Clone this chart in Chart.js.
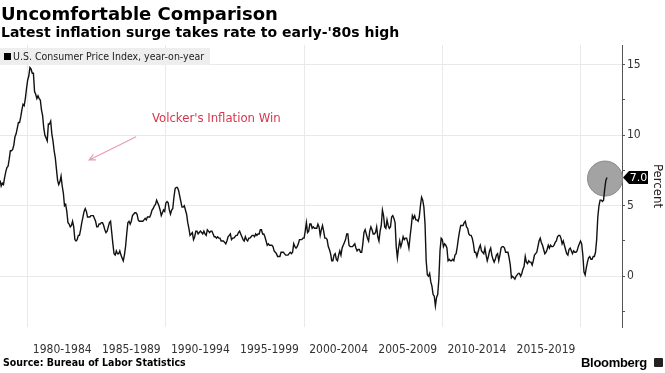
<!DOCTYPE html>
<html>
<head>
<meta charset="utf-8">
<script src="https://cdn.jsdelivr.net/npm/chart.js@4/dist/chart.umd.min.js"></script>
<style>
  html, body { margin: 0; padding: 0; background: #fff; }
  #wrap { position: relative; width: 665px; height: 373px; overflow: hidden; font-family: "DejaVu Sans", sans-serif; }
  #c { position: absolute; left: 0; top: 0; }
  .t { position: absolute; white-space: nowrap; color: #000; }
  #title { left: 1px; top: 1px; font-size: 18px; font-weight: bold; line-height: 26px; }
  #sub { left: 1px; top: 23px; font-size: 14px; font-weight: bold; line-height: 18px; }
  #legend { left: 0; top: 48px; width: 210px; height: 17px; background: #eeeeee; font-family: "DejaVu Sans Condensed", "DejaVu Sans", sans-serif; font-size: 10.5px; line-height: 17px; color: #222; padding-left: 13px; box-sizing: border-box; }
  #legend:before { content: ""; position: absolute; left: 4px; top: 5px; width: 7px; height: 7px; background: #000; }
  #src { left: 3px; top: 355px; font-size: 10.5px; font-weight: bold; line-height: 14px; font-family: "DejaVu Sans Condensed", "DejaVu Sans", sans-serif; }
  #bbg { left: 581px; top: 355px; font-size: 13px; font-weight: bold; line-height: 16px; font-family: "Liberation Sans", sans-serif; letter-spacing: -0.3px; }
  #logo { position: absolute; left: 654px; top: 358px; width: 9px; height: 9px; background: #222; border-radius: 1px; }
</style>
</head>
<body>
<div id="wrap">
  <canvas id="c" width="665" height="373"></canvas>
  <div class="t" id="title">Uncomfortable Comparison</div>
  <div class="t" id="sub">Latest inflation surge takes rate to early-'80s high</div>
  <div class="t" id="legend">U.S. Consumer Price Index, year-on-year</div>
  <div class="t" id="src">Source: Bureau of Labor Statistics</div>
  <div class="t" id="bbg">Bloomberg</div>
  <div id="logo"></div>
</div>
<script>
// ---- Data ----
const startYear = 1978;          // first month: January 1978, monthly series
const cpiYoY = [
  // 1978
  6.8, 6.4, 6.6, 6.5, 7.0, 7.4, 7.7, 7.8, 8.3, 8.9, 8.9, 9.0,
  // 1979
  9.3, 9.9, 10.1, 10.5, 10.9, 10.9, 11.3, 11.8, 12.2, 12.1, 12.6, 13.3,
  // 1980
  13.9, 14.2, 14.8, 14.7, 14.4, 14.4, 13.1, 12.9, 12.6, 12.8, 12.6, 12.5,
  // 1981
  11.8, 11.4, 10.5, 10.0, 9.8, 9.6, 10.8, 10.8, 11.0, 10.1, 9.6, 8.9,
  // 1982
  8.4, 7.6, 6.8, 6.5, 6.7, 7.1, 6.4, 5.9, 5.0, 5.1, 4.6, 3.8,
  // 1983
  3.7, 3.5, 3.6, 3.9, 3.5, 2.6, 2.5, 2.6, 2.9, 2.9, 3.3, 3.8,
  // 1984
  4.2, 4.6, 4.8, 4.6, 4.2, 4.2, 4.2, 4.3, 4.3, 4.3, 4.1, 3.9,
  // 1985
  3.5, 3.5, 3.7, 3.7, 3.8, 3.8, 3.6, 3.3, 3.1, 3.2, 3.5, 3.8,
  // 1986
  3.9, 3.1, 2.3, 1.6, 1.5, 1.8, 1.6, 1.6, 1.8, 1.5, 1.3, 1.1,
  // 1987
  1.5, 2.1, 3.0, 3.8, 3.9, 3.7, 3.9, 4.3, 4.4, 4.5, 4.5, 4.4,
  // 1988
  4.0, 3.9, 3.9, 3.9, 3.9, 4.0, 4.1, 4.0, 4.2, 4.2, 4.2, 4.4,
  // 1989
  4.7, 4.8, 5.0, 5.1, 5.4, 5.2, 5.0, 4.7, 4.3, 4.5, 4.7, 4.6,
  // 1990
  5.2, 5.3, 5.2, 4.7, 4.4, 4.7, 4.8, 5.6, 6.2, 6.3, 6.3, 6.1,
  // 1991
  5.7, 5.3, 4.9, 4.9, 5.0, 4.7, 4.4, 3.8, 3.4, 2.9, 3.0, 3.1,
  // 1992
  2.6, 2.8, 3.2, 3.2, 3.0, 3.1, 3.2, 3.1, 3.0, 3.2, 3.0, 2.9,
  // 1993
  3.3, 3.2, 3.1, 3.2, 3.2, 3.0, 2.8, 2.8, 2.7, 2.8, 2.7, 2.7,
  // 1994
  2.5, 2.5, 2.5, 2.4, 2.3, 2.5, 2.8, 2.9, 3.0, 2.6, 2.7, 2.7,
  // 1995
  2.8, 2.9, 2.9, 3.1, 3.2, 3.0, 2.8, 2.6, 2.5, 2.8, 2.6, 2.5,
  // 1996
  2.7, 2.7, 2.8, 2.9, 2.9, 2.8, 3.0, 2.9, 3.0, 3.0, 3.3, 3.3,
  // 1997
  3.0, 3.0, 2.8, 2.5, 2.2, 2.3, 2.2, 2.2, 2.2, 2.1, 1.8, 1.7,
  // 1998
  1.6, 1.4, 1.4, 1.4, 1.7, 1.7, 1.7, 1.6, 1.5, 1.5, 1.5, 1.6,
  // 1999
  1.7, 1.6, 1.7, 2.3, 2.1, 2.0, 2.1, 2.3, 2.6, 2.6, 2.6, 2.7,
  // 2000
  2.7, 3.2, 3.8, 3.1, 3.2, 3.7, 3.7, 3.4, 3.5, 3.4, 3.4, 3.4,
  // 2001
  3.7, 3.5, 2.9, 3.3, 3.6, 3.2, 2.7, 2.7, 2.6, 2.1, 1.9, 1.6,
  // 2002
  1.1, 1.1, 1.5, 1.6, 1.2, 1.1, 1.5, 1.8, 1.5, 2.0, 2.2, 2.4,
  // 2003
  2.6, 3.0, 3.0, 2.2, 2.1, 2.1, 2.1, 2.2, 2.3, 2.0, 1.8, 1.9,
  // 2004
  1.9, 1.7, 1.7, 2.3, 3.1, 3.3, 3.0, 2.7, 2.5, 3.2, 3.5, 3.3,
  // 2005
  3.0, 3.0, 3.1, 3.5, 2.8, 2.5, 3.2, 3.6, 4.7, 4.3, 3.5, 3.4,
  // 2006
  4.0, 3.6, 3.4, 3.5, 4.2, 4.3, 4.1, 3.8, 2.1, 1.3, 2.0, 2.5,
  // 2007
  2.1, 2.4, 2.8, 2.6, 2.7, 2.7, 2.4, 2.0, 2.8, 3.5, 4.3, 4.1,
  // 2008
  4.3, 4.0, 4.0, 3.9, 4.2, 5.0, 5.6, 5.4, 4.9, 3.7, 1.1, 0.1,
  // 2009
  0.0, 0.2, -0.4, -0.7, -1.3, -1.4, -2.1, -1.5, -1.3, -0.2, 1.8, 2.7,
  // 2010
  2.6, 2.1, 2.3, 2.2, 2.0, 1.1, 1.2, 1.1, 1.1, 1.2, 1.1, 1.5,
  // 2011
  1.6, 2.1, 2.7, 3.2, 3.6, 3.6, 3.6, 3.8, 3.9, 3.5, 3.4, 3.0,
  // 2012
  2.9, 2.9, 2.7, 2.3, 1.7, 1.7, 1.4, 1.7, 2.0, 2.2, 1.8, 1.7,
  // 2013
  1.6, 2.0, 1.5, 1.1, 1.4, 1.8, 2.0, 1.5, 1.2, 1.0, 1.2, 1.5,
  // 2014
  1.6, 1.1, 1.5, 2.0, 2.1, 2.1, 2.0, 1.7, 1.7, 1.7, 1.3, 0.8,
  // 2015
  -0.1, 0.0, -0.1, -0.2, 0.0, 0.1, 0.2, 0.2, 0.0, 0.2, 0.5, 0.7,
  // 2016
  1.4, 1.0, 0.9, 1.1, 1.0, 1.0, 0.8, 1.1, 1.5, 1.6, 1.7, 2.1,
  // 2017
  2.5, 2.7, 2.4, 2.2, 1.9, 1.6, 1.7, 1.9, 2.2, 2.0, 2.2, 2.1,
  // 2018
  2.1, 2.2, 2.4, 2.5, 2.8, 2.9, 2.9, 2.7, 2.3, 2.5, 2.2, 1.9,
  // 2019
  1.6, 1.5, 1.9, 2.0, 1.8, 1.6, 1.8, 1.7, 1.7, 1.8, 2.1, 2.3,
  // 2020
  2.5, 2.3, 1.5, 0.3, 0.1, 0.6, 1.0, 1.3, 1.4, 1.2, 1.2, 1.4,
  // 2021
  1.4, 1.7, 2.6, 4.2, 5.0, 5.4, 5.4, 5.3, 5.4, 6.2, 6.8, 7.0
];
const periodLabels = ['1980-1984','1985-1989','1990-1994','1995-1999','2000-2004','2005-2009','2010-2014','2015-2019'];
const periodStarts = [1980, 1985, 1990, 1995, 2000, 2005, 2010, 2015];
const gridYears = [1980, 1990, 2000, 2010, 2020];
const yTicks = [-2.5, 0, 2.5, 5, 7.5, 10, 12.5, 15];
const yLabelled = [0, 5, 10, 15];
const annotationText = "Volcker's Inflation Win";
const latestLabel = '7.0';

// ---- Build points ----
const points = cpiYoY.map((v, i) => ({ x: startYear + i / 12, y: v }));
const X_MIN = 1978, X_MAX = 2023;

const annotPlugin = {
  id: 'annot',
  beforeDatasetsDraw(chart) {
    const meta = chart.getDatasetMeta(0);
    const last = meta.data[meta.data.length - 1];
    const ctx = chart.ctx;
    ctx.save();
    ctx.beginPath();
    ctx.arc(last.x - 2, last.y + 1, 17.5, 0, Math.PI * 2);
    ctx.fillStyle = '#a3a3a3';
    ctx.fill();
    ctx.lineWidth = 1;
    ctx.strokeStyle = '#8a8a8a';
    ctx.stroke();
    ctx.restore();
  },
  afterDraw(chart) {
    const ctx = chart.ctx;
    const xs = chart.scales.x, ys = chart.scales.y;
    ctx.save();
    // Annotation text
    ctx.fillStyle = '#d8364d';
    ctx.font = '13px "DejaVu Sans Condensed", "DejaVu Sans", sans-serif';
    ctx.textBaseline = 'middle';
    ctx.textAlign = 'left';
    ctx.fillText(annotationText, xs.getPixelForValue(1989.0), ys.getPixelForValue(11.2));
    // Arrow
    const x1 = xs.getPixelForValue(1987.85), y1 = ys.getPixelForValue(9.9);
    const x2 = xs.getPixelForValue(1984.45), y2 = ys.getPixelForValue(8.25);
    ctx.strokeStyle = '#e79aae';
    ctx.lineWidth = 1.1;
    ctx.beginPath();
    ctx.moveTo(x1, y1); ctx.lineTo(x2, y2);
    const ang = Math.atan2(y2 - y1, x2 - x1);
    const L = 7;
    ctx.moveTo(x2 - L * Math.cos(ang - 0.45), y2 - L * Math.sin(ang - 0.45));
    ctx.lineTo(x2, y2);
    ctx.lineTo(x2 - L * Math.cos(ang + 0.45), y2 - L * Math.sin(ang + 0.45));
    ctx.stroke();
    // Latest value tag
    const meta = chart.getDatasetMeta(0);
    const last = meta.data[meta.data.length - 1];
    const ty = last.y;
    const ax = chart.chartArea.right + 1;
    ctx.fillStyle = '#000';
    ctx.beginPath();
    ctx.moveTo(ax, ty);
    ctx.lineTo(ax + 6, ty - 6.5);
    ctx.lineTo(ax + 25, ty - 6.5);
    ctx.lineTo(ax + 25, ty + 6.5);
    ctx.lineTo(ax + 6, ty + 6.5);
    ctx.closePath();
    ctx.fill();
    ctx.fillStyle = '#fff';
    ctx.font = '11px "DejaVu Sans", sans-serif';
    ctx.textAlign = 'center';
    ctx.fillText(latestLabel, ax + 15.5, ty + 0.5);
    ctx.restore();
  }
};

new Chart(document.getElementById('c'), {
  type: 'line',
  data: {
    datasets: [{
      label: 'U.S. Consumer Price Index, year-on-year',
      data: points,
      borderColor: '#111',
      borderWidth: 1.4,
      pointRadius: 0,
      tension: 0,
      fill: false,
      xAxisID: 'x',
      yAxisID: 'y'
    }]
  },
  options: {
    responsive: false,
    animation: false,
    events: [],
    layout: { padding: { top: 45, left: 0, right: 0, bottom: 0 } },
    plugins: { legend: { display: false }, tooltip: { enabled: false } },
    scales: {
      x: {
        type: 'linear',
        position: 'bottom',
        min: X_MIN, max: X_MAX,
        grid: { display: false, drawTicks: false },
        border: { display: false },
        afterBuildTicks(scale) { scale.ticks = periodStarts.map(v => ({ value: v + 2.5 })); },
        afterFit(scale) { scale.height = 46; },
        ticks: {
          autoSkip: false, maxRotation: 0, padding: 16,
          color: '#333',
          font: { family: '"DejaVu Sans Condensed", "DejaVu Sans", sans-serif', size: 12 },
          callback(value, index) { return periodLabels[index]; }
        }
      },
      xg: {
        type: 'linear',
        position: 'bottom',
        min: X_MIN, max: X_MAX,
        grid: { display: true, drawTicks: false, color: '#e9e9e9', lineWidth: 1 },
        border: { display: false },
        afterBuildTicks(scale) { scale.ticks = gridYears.map(v => ({ value: v })); },
        afterFit(scale) { scale.height = 0; },
        ticks: { display: false }
      },
      y: {
        position: 'right',
        min: -3.6, max: 16.4,
        afterBuildTicks(scale) { scale.ticks = yTicks.map(v => ({ value: v })); },
        afterFit(scale) { scale.width = 43; },
        grid: {
          color: ctx => (ctx.tick && yLabelled.includes(ctx.tick.value)) ? '#e9e9e9' : 'rgba(0,0,0,0)',
          tickColor: '#555',
          tickLength: 3,
          lineWidth: 1
        },
        border: { display: true, color: '#555', width: 1 },
        title: {
          display: true, text: 'Percent', color: '#222', padding: 0,
          font: { family: '"DejaVu Sans Condensed", "DejaVu Sans", sans-serif', size: 13 }
        },
        ticks: {
          padding: 2,
          color: '#333',
          font: { family: '"DejaVu Sans Condensed", "DejaVu Sans", sans-serif', size: 12 },
          callback(value) { return yLabelled.includes(value) ? String(value) : ''; }
        }
      }
    }
  },
  plugins: [annotPlugin]
});
</script>
</body>
</html>
